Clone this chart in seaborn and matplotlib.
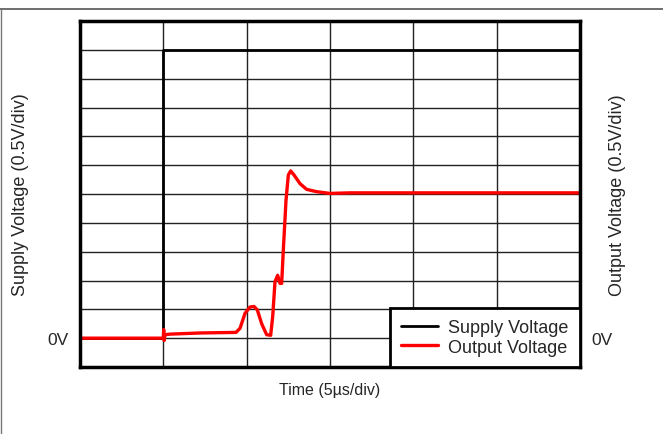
import numpy as np
import pandas as pd
import matplotlib
matplotlib.use("Agg")
import matplotlib.pyplot as plt
import seaborn as sns

# time in us, voltage in V (5us/div, 0.5V/div)
supply_t = [0, 5, 5, 30]
supply_v = [0, 0, 5, 5]

out_t = [0, 5.0, 5.02, 5.05, 5.1, 5.4, 7.2, 9.36, 9.6, 9.9, 10.2, 10.44, 10.64, 10.9,
         11.2, 11.44, 11.56, 11.7, 11.86, 12.0, 12.1, 12.2, 12.36, 12.5, 12.64, 12.84,
         13.2, 13.6, 14.2, 15.0, 16.2, 30]
out_v = [0.0, 0.0, 0.15, -0.04, 0.06, 0.07, 0.09, 0.1, 0.17, 0.43, 0.54, 0.55, 0.49, 0.25,
         0.06, 0.05, 0.37, 0.98, 1.09, 0.95, 0.95, 1.53, 2.39, 2.83, 2.9, 2.83,
         2.68, 2.58, 2.54, 2.51, 2.52, 2.52]

sns.set_style("white")
plt.rcParams['font.family'] = ['Liberation Sans', 'DejaVu Sans']

fig = plt.figure(figsize=(6.63, 4.35), dpi=100)
ax = fig.add_axes([80/663, 67/435, 500/663, 346/435])

sup = pd.DataFrame({'t': supply_t, 'v': supply_v})
out = pd.DataFrame({'t': out_t, 'v': out_v})
sns.lineplot(data=sup, x='t', y='v', sort=False, estimator=None, color='black',
             lw=2.0, ax=ax, label='Supply Voltage')
sns.lineplot(data=out, x='t', y='v', sort=False, estimator=None, color='red',
             lw=2.4, ax=ax, label='Output Voltage')

ax.set_xlim(0, 30)
ax.set_ylim(-0.5, 5.5)
ax.set_xticks(np.arange(0, 31, 5))
ax.set_yticks(np.arange(-0.5, 5.51, 0.5))
ax.set_xticklabels([])
ax.set_yticklabels(['0V' if abs(v) < 1e-9 else '' for v in np.arange(-0.5, 5.51, 0.5)])
ax.tick_params(length=0, labelsize=12.5, pad=8)
ax.grid(True, color='#222222', lw=1.0)
ax.set_axisbelow(True)
for s in ax.spines.values():
    s.set_linewidth(2.5)
    s.set_color('black')

ax.set_xlabel('Time (5µs/div)', fontsize=11.5)
ax.xaxis.set_label_coords(0.5, -0.042)
ax.set_ylabel('Supply Voltage (0.5V/div)', fontsize=13)
ax.yaxis.set_label_coords(-0.102, 0.5)

ax2 = ax.twinx()
ax2.set_ylim(-0.5, 5.5)
ax2.set_yticks([0])
ax2.set_yticklabels(['0V'])
ax2.tick_params(length=0, labelsize=12.5, pad=8)
ax2.set_ylabel('Output Voltage (0.5V/div)', fontsize=13)
ax2.yaxis.set_label_coords(1.058, 0.5)
ax2.grid(False)
for s in ax2.spines.values():
    s.set_visible(False)

leg = ax.legend(loc='lower right', fontsize=13, frameon=True, fancybox=False,
                borderaxespad=0, handlelength=2.0, borderpad=0.62, labelspacing=0.15,
                handletextpad=0.6)
leg.get_frame().set_edgecolor('black')
leg.get_frame().set_linewidth(2.0)
leg.get_frame().set_alpha(1)

# page frame lines
fig.add_artist(plt.Line2D([0, 1], [1 - 10/435, 1 - 10/435], color='#555555', lw=1.2))
fig.add_artist(plt.Line2D([0.5/663, 0.5/663], [0, 1 - 10/435], color='#777777', lw=1.0))

fig.savefig('out.png', dpi=100)
